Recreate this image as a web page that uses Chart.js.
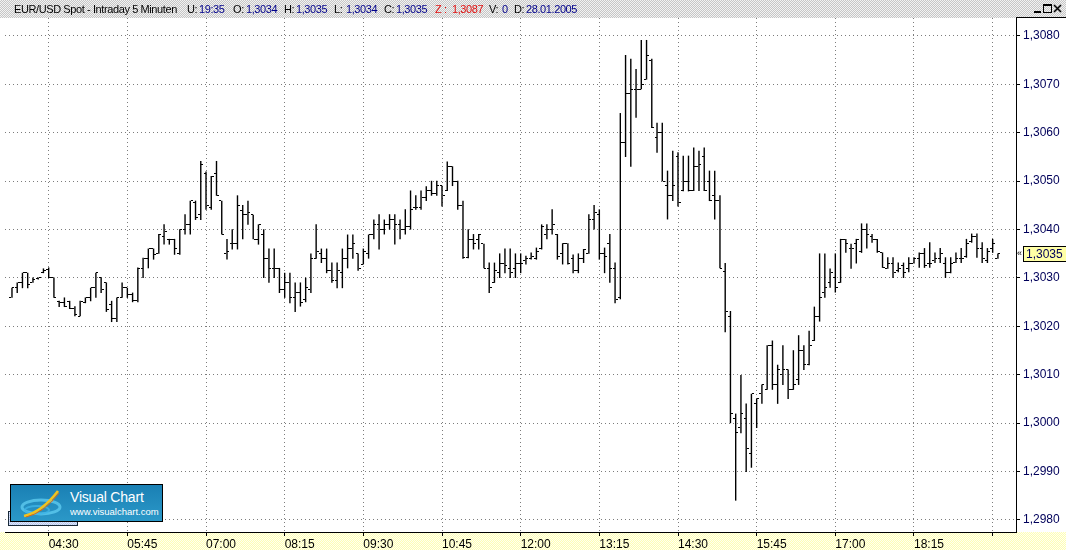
<!DOCTYPE html>
<html><head><meta charset="utf-8">
<script src="https://cdn.jsdelivr.net/npm/chart.js@4.4.0/dist/chart.umd.min.js"></script>
<style>
html,body{margin:0;padding:0;background:#fff;}
#wrap{position:relative;width:1066px;height:550px;overflow:hidden;font-family:"Liberation Sans",Arial,sans-serif;background:#fff;}
#hdr{position:absolute;left:0;top:0;width:1066px;height:18px;background:repeating-conic-gradient(#c6c6c6 0 25%,#f2f2f2 0 50%) 0 0/2px 2px;z-index:3;font-size:11px;letter-spacing:-0.4px;}
#hdr span{position:absolute;top:3px;white-space:nowrap;line-height:12px;}
.k{color:#000}.v{color:#00008b}.r{color:#e01010}
#xbg{position:absolute;left:0;top:532px;width:1066px;height:18px;background:repeating-conic-gradient(#ffffb4 0 25%,#fffff2 0 50%) 0 0/2px 2px;z-index:1;}
#c{position:absolute;left:0;top:0;z-index:2;}
#strip{position:absolute;left:8px;top:511px;width:68px;height:13px;background:repeating-conic-gradient(#b8c8ec 0 25%,#dde6fa 0 50%) 0 0/2px 2px;border:1px solid #1a2a3a;z-index:4;}
#logo{position:absolute;left:10px;top:484px;width:151px;height:36px;background:linear-gradient(#1a80b4,#2b98c8);border:1px solid #000;z-index:5;overflow:hidden;}
#logo .t1{position:absolute;left:59px;top:4px;color:#fff;font-size:14px;letter-spacing:-0.2px;}
#logo .t2{position:absolute;left:59px;top:21px;color:#fff;font-size:9.5px;}
#ytop{position:absolute;left:1016px;top:17px;width:50px;height:1px;background:#000;z-index:4;}
.win{position:absolute;z-index:4;}
</style></head>
<body><div id="wrap">
<div id="hdr">
<span class="k" style="left:14px">EUR/USD Spot - Intraday 5 Minuten</span>
<span class="k" style="left:187px">U:</span><span class="v" style="left:199px">19:35</span>
<span class="k" style="left:233px">O:</span><span class="v" style="left:246px">1,3034</span>
<span class="k" style="left:284px">H:</span><span class="v" style="left:296px">1,3035</span>
<span class="k" style="left:334px">L:</span><span class="v" style="left:346px">1,3034</span>
<span class="k" style="left:384px">C:</span><span class="v" style="left:396px">1,3035</span>
<span class="r" style="left:435px">Z :</span><span class="r" style="left:452px">1,3087</span>
<span class="k" style="left:489px">V:</span><span class="v" style="left:502px">0</span>
<span class="k" style="left:514px">D:</span><span class="v" style="left:526px">28.01.2005</span>
<div class="win" style="left:1034px;top:11px;width:7px;height:2px;background:#000;"></div>
<div class="win" style="left:1043px;top:4px;width:7px;height:6px;border:1px solid #000;border-top-width:2px;"></div>
<svg class="win" style="left:1053px;top:4px" width="10" height="10"><path d="M1 1 L8 8 M8 1 L1 8" stroke="#000" stroke-width="1.6"/></svg>
</div>
<div id="xbg"></div>
<div id="ytop"></div>
<canvas id="c" width="1066" height="550"></canvas>
<div id="strip"></div>
<div id="logo">
<svg width="60" height="36" style="position:absolute;left:0;top:0">
<ellipse cx="30" cy="22" rx="19" ry="7" fill="none" stroke="#62cdf2" stroke-width="3" opacity="0.75"/>
<ellipse cx="26" cy="25" rx="12" ry="4" fill="none" stroke="#3fb4e6" stroke-width="2" opacity="0.8"/>
<path d="M13 31 Q31 27 47 6" stroke="#f2c21c" stroke-width="2.6" fill="none"/>
<path d="M15 32 Q33 28 48 8" stroke="#e06a10" stroke-width="1" fill="none"/>
</svg>
<div class="t1">Visual Chart</div>
<div class="t2">www.visualchart.com</div>
</div>
</div>
<script>
const times = ["03:55",
"04:00","04:05","04:10","04:15","04:20","04:25","04:30","04:35","04:40","04:45","04:50","04:55",
"05:00","05:05","05:10","05:15","05:20","05:25","05:30","05:35","05:40","05:45","05:50","05:55",
"06:00","06:05","06:10","06:15","06:20","06:25","06:30","06:35","06:40","06:45","06:50","06:55",
"07:00","07:05","07:10","07:15","07:20","07:25","07:30","07:35","07:40","07:45","07:50","07:55",
"08:00","08:05","08:10","08:15","08:20","08:25","08:30","08:35","08:40","08:45","08:50","08:55",
"09:00","09:05","09:10","09:15","09:20","09:25","09:30","09:35","09:40","09:45","09:50","09:55",
"10:00","10:05","10:10","10:15","10:20","10:25","10:30","10:35","10:40","10:45","10:50","10:55",
"11:00","11:05","11:10","11:15","11:20","11:25","11:30","11:35","11:40","11:45","11:50","11:55",
"12:00","12:05","12:10","12:15","12:20","12:25","12:30","12:35","12:40","12:45","12:50","12:55",
"13:00","13:05","13:10","13:15","13:20","13:25","13:30","13:35","13:40","13:45","13:50","13:55",
"14:00","14:05","14:10","14:15","14:20","14:25","14:30","14:35","14:40","14:45","14:50","14:55",
"15:00","15:05","15:10","15:15","15:20","15:25","15:30","15:35","15:40","15:45","15:50","15:55",
"16:00","16:05","16:10","16:15","16:20","16:25","16:30","16:35","16:40","16:45","16:50","16:55",
"17:00","17:05","17:10","17:15","17:20","17:25","17:30","17:35","17:40","17:45","17:50","17:55",
"18:00","18:05","18:10","18:15","18:20","18:25","18:30","18:35","18:40","18:45","18:50","18:55",
"19:00","19:05","19:10","19:15","19:20","19:25","19:30","19:35"];

const opens = [
1.30259,1.30279,1.30290,1.30310,1.30290,1.30298,1.30310,1.30318,1.30300,1.30252,
1.30248,1.30252,1.30236,1.30221,1.30248,1.30260,1.30279,1.30300,1.30290,1.30245,
1.30215,1.30259,1.30279,1.30265,1.30253,1.30320,1.30340,1.30360,1.30350,1.30385,
1.30380,1.30380,1.30350,1.30400,1.30410,1.30455,1.30430,1.30515,1.30445,1.30515,
1.30459,1.30350,1.30370,1.30370,1.30440,1.30430,1.30430,1.30380,1.30390,1.30340,
1.30320,1.30320,1.30275,1.30290,1.30260,1.30270,1.30255,1.30275,1.30340,1.30350,
1.30340,1.30315,1.30295,1.30310,1.30340,1.30360,1.30350,1.30328,1.30350,1.30389,
1.30410,1.30400,1.30410,1.30420,1.30410,1.30400,1.30405,1.30445,1.30445,1.30465,
1.30480,1.30475,1.30490,1.30480,1.30530,1.30500,1.30450,1.30341,1.30380,1.30380,
1.30370,1.30320,1.30290,1.30310,1.30330,1.30320,1.30320,1.30330,1.30335,1.30340,
1.30340,1.30360,1.30390,1.30400,1.30390,1.30350,1.30370,1.30340,1.30315,1.30340,
1.30350,1.30420,1.30430,1.30350,1.30370,1.30320,1.30260,1.30580,1.30680,1.30690,
1.30690,1.30710,1.30750,1.30590,1.30600,1.30490,1.30470,1.30550,1.30480,1.30500,
1.30480,1.30530,1.30550,1.30500,1.30470,1.30460,1.30312,1.30220,1.30009,1.29990,
1.30009,1.29938,1.30040,1.30060,1.30069,1.30160,1.30080,1.30100,1.30110,1.30070,
1.30090,1.30150,1.30120,1.30170,1.30220,1.30270,1.30290,1.30300,1.30290,1.30380,
1.30360,1.30370,1.30355,1.30400,1.30385,1.30380,1.30352,1.30320,1.30330,1.30315,
1.30325,1.30320,1.30330,1.30340,1.30350,1.30330,1.30335,1.30340,1.30330,1.30310,
1.30332,1.30340,1.30345,1.30375,1.30385,1.30360,1.30335,1.30360,1.30340];

const highs = [
1.30279,1.30290,1.30310,1.30310,1.30300,1.30300,1.30319,1.30321,1.30300,1.30252,
1.30259,1.30252,1.30241,1.30252,1.30259,1.30279,1.30310,1.30300,1.30290,1.30252,
1.30259,1.30290,1.30279,1.30269,1.30321,1.30341,1.30360,1.30360,1.30390,1.30410,
1.30380,1.30380,1.30400,1.30431,1.30459,1.30459,1.30541,1.30519,1.30510,1.30541,
1.30459,1.30380,1.30400,1.30470,1.30450,1.30459,1.30430,1.30410,1.30400,1.30360,
1.30360,1.30320,1.30310,1.30310,1.30290,1.30290,1.30300,1.30350,1.30410,1.30360,
1.30360,1.30331,1.30331,1.30360,1.30389,1.30389,1.30350,1.30360,1.30389,1.30420,
1.30431,1.30420,1.30431,1.30431,1.30420,1.30441,1.30480,1.30470,1.30480,1.30489,
1.30500,1.30500,1.30490,1.30540,1.30530,1.30500,1.30459,1.30400,1.30390,1.30390,
1.30370,1.30331,1.30331,1.30350,1.30360,1.30360,1.30350,1.30350,1.30345,1.30352,
1.30362,1.30410,1.30410,1.30441,1.30390,1.30371,1.30371,1.30348,1.30350,1.30359,
1.30431,1.30450,1.30441,1.30362,1.30390,1.30331,1.30640,1.30760,1.30752,1.30731,
1.30791,1.30791,1.30752,1.30620,1.30620,1.30521,1.30562,1.30559,1.30552,1.30552,
1.30569,1.30562,1.30569,1.30521,1.30521,1.30470,1.30330,1.30231,1.30019,1.30099,
1.30040,1.30060,1.30050,1.30079,1.30160,1.30170,1.30120,1.30160,1.30110,1.30150,
1.30181,1.30160,1.30190,1.30240,1.30350,1.30350,1.30319,1.30350,1.30380,1.30380,
1.30370,1.30380,1.30412,1.30412,1.30390,1.30380,1.30352,1.30342,1.30342,1.30331,
1.30331,1.30342,1.30342,1.30352,1.30361,1.30373,1.30352,1.30361,1.30342,1.30342,
1.30352,1.30361,1.30380,1.30391,1.30391,1.30373,1.30361,1.30380,1.30350];

const lows = [
1.30259,1.30269,1.30279,1.30279,1.30290,1.30297,1.30310,1.30300,1.30259,1.30240,
1.30240,1.30236,1.30221,1.30221,1.30248,1.30252,1.30259,1.30269,1.30230,1.30209,
1.30209,1.30259,1.30259,1.30250,1.30250,1.30300,1.30320,1.30338,1.30350,1.30369,
1.30369,1.30348,1.30348,1.30390,1.30390,1.30420,1.30420,1.30441,1.30441,1.30470,
1.30390,1.30338,1.30359,1.30359,1.30380,1.30410,1.30380,1.30369,1.30300,1.30290,
1.30300,1.30269,1.30259,1.30248,1.30230,1.30241,1.30250,1.30269,1.30340,1.30331,
1.30310,1.30290,1.30279,1.30279,1.30320,1.30340,1.30315,1.30328,1.30340,1.30380,
1.30359,1.30390,1.30400,1.30369,1.30380,1.30390,1.30400,1.30441,1.30441,1.30459,
1.30470,1.30470,1.30448,1.30480,1.30490,1.30441,1.30340,1.30341,1.30359,1.30359,
1.30320,1.30269,1.30290,1.30300,1.30310,1.30300,1.30300,1.30310,1.30328,1.30338,
1.30338,1.30359,1.30380,1.30390,1.30338,1.30328,1.30328,1.30310,1.30310,1.30331,
1.30350,1.30400,1.30338,1.30310,1.30290,1.30248,1.30256,1.30550,1.30530,1.30631,
1.30690,1.30710,1.30610,1.30559,1.30500,1.30421,1.30459,1.30448,1.30479,1.30479,
1.30480,1.30480,1.30480,1.30459,1.30421,1.30320,1.30188,1.30000,1.29840,1.29979,
1.29899,1.29908,1.29990,1.30040,1.30069,1.30069,1.30040,1.30079,1.30050,1.30069,
1.30079,1.30110,1.30120,1.30170,1.30210,1.30259,1.30280,1.30270,1.30290,1.30352,
1.30319,1.30330,1.30352,1.30361,1.30373,1.30352,1.30321,1.30319,1.30300,1.30312,
1.30300,1.30312,1.30330,1.30321,1.30321,1.30321,1.30331,1.30331,1.30300,1.30310,
1.30331,1.30331,1.30342,1.30373,1.30342,1.30331,1.30331,1.30352,1.30340];

const closes = [
1.30279,1.30290,1.30310,1.30286,1.30296,1.30300,1.30316,1.30300,1.30259,1.30248,
1.30240,1.30236,1.30225,1.30252,1.30259,1.30279,1.30310,1.30275,1.30235,1.30215,
1.30259,1.30279,1.30265,1.30253,1.30320,1.30340,1.30360,1.30348,1.30390,1.30395,
1.30380,1.30360,1.30400,1.30410,1.30459,1.30425,1.30534,1.30450,1.30510,1.30470,
1.30390,1.30355,1.30370,1.30450,1.30430,1.30435,1.30380,1.30410,1.30340,1.30320,
1.30320,1.30275,1.30290,1.30260,1.30270,1.30250,1.30280,1.30340,1.30355,1.30340,
1.30315,1.30295,1.30315,1.30340,1.30360,1.30370,1.30320,1.30355,1.30389,1.30410,
1.30400,1.30410,1.30420,1.30410,1.30400,1.30405,1.30441,1.30445,1.30465,1.30480,
1.30475,1.30490,1.30470,1.30530,1.30500,1.30450,1.30341,1.30379,1.30370,1.30390,
1.30320,1.30280,1.30315,1.30330,1.30325,1.30310,1.30330,1.30330,1.30340,1.30345,
1.30355,1.30405,1.30400,1.30410,1.30345,1.30370,1.30330,1.30315,1.30340,1.30359,
1.30420,1.30435,1.30350,1.30345,1.30320,1.30255,1.30580,1.30680,1.30690,1.30690,
1.30700,1.30760,1.30610,1.30600,1.30500,1.30470,1.30490,1.30455,1.30500,1.30480,
1.30530,1.30535,1.30480,1.30460,1.30460,1.30320,1.30231,1.30020,1.29980,1.30019,
1.29948,1.30060,1.30050,1.30079,1.30160,1.30080,1.30110,1.30110,1.30069,1.30080,
1.30150,1.30120,1.30160,1.30220,1.30260,1.30280,1.30310,1.30280,1.30380,1.30370,
1.30360,1.30380,1.30400,1.30390,1.30380,1.30355,1.30321,1.30330,1.30310,1.30320,
1.30310,1.30330,1.30340,1.30350,1.30325,1.30330,1.30340,1.30350,1.30310,1.30330,
1.30340,1.30340,1.30370,1.30385,1.30360,1.30340,1.30355,1.30370,1.30350];

const xTickTimes  = ["04:30","05:45","07:00","08:15","09:30","10:45","12:00","13:15","14:30","15:45","17:00","18:15","19:30"];
const xTickLabels = ["04:30","05:45","07:00","08:15","09:30","10:45","12:00","13:15","14:30","15:45","17:00","18:15",""];
const yTickValues = [1.2980,1.2990,1.3000,1.3010,1.3020,1.3030,1.3040,1.3050,1.3060,1.3070,1.3080];
const yTickLabels = ["1,2980","1,2990","1,3000","1,3010","1,3020","1,3030","1,3040","1,3050","1,3060","1,3070","1,3080"];
const lastPriceLabel = "1,3035";

function tickImg(side){
  const c=document.createElement('canvas'); c.width=5; c.height=1;
  const g=c.getContext('2d'); g.fillStyle='#000';
  if(side==='l') g.fillRect(0,0,2,1); else g.fillRect(3,0,2,1);
  return c;
}
const openImg = tickImg('l'), closeImg = tickImg('r');

const FONT = '"Liberation Sans", Arial, sans-serif';
const gridOpts = {display:true,offset:false,color:'#7c7c7c',lineWidth:1,drawOnChartArea:true,drawTicks:true,tickLength:4,tickColor:'#000',tickWidth:1,tickBorderDash:[]};
const borderOpts = {display:true,color:'#000',width:1,dash:[1,3]};

const crisp = {
  id:'crisp',
  beforeDatasetsDraw(chart){ chart.ctx.imageSmoothingEnabled=false; }
};
const lastPrice = {
  id:'lastPrice',
  afterDraw(chart){
    const ys = chart.scales.y, ca = chart.chartArea, c = chart.ctx;
    const y = Math.round(ys.getPixelForValue(closes[closes.length-1]));
    const x0 = ca.right + 7;
    c.save();
    c.fillStyle='#ffffa6';
    c.fillRect(x0, y-8, 43, 16);
    c.strokeStyle='#000'; c.lineWidth=1;
    c.strokeRect(x0+0.5, y-7.5, 43, 15);
    c.fillStyle='#00005a';
    c.font='12px '+FONT; c.textBaseline='middle'; c.textAlign='left';
    c.fillText(lastPriceLabel, x0+3, y+1);
    c.fillStyle='#000'; c.font='9px '+FONT;
    c.fillText('\u00ab', ca.right+1, y);
    c.restore();
  }
};

new Chart(document.getElementById('c'), {
  type:'bar',
  data:{datasets:[
    {type:'bar', data: times.map((t,i)=>({x:i, y:[lows[i], highs[i]]})), backgroundColor:'#000', borderWidth:0, barThickness:1, inflateAmount:0.2, grouped:false},
    {type:'scatter', data: times.map((t,i)=>({x:i, y:opens[i]})), pointStyle:openImg, pointRadius:3, showLine:false},
    {type:'scatter', data: times.map((t,i)=>({x:i, y:closes[i]})), pointStyle:closeImg, pointRadius:3, showLine:false}
  ]},
  options:{
    responsive:false, animation:false, devicePixelRatio:1, events:[],
    layout:{padding:{top:18,left:0,right:0,bottom:0}},
    plugins:{legend:{display:false}, tooltip:{enabled:false}},
    scales:{
      x:{type:'linear', position:'bottom', offset:false, min:-1.33, max:191.45,
         afterBuildTicks:s=>{ s.ticks = xTickTimes.map(t=>({value: times.indexOf(t)})); },
         afterFit:s=>{ s.height = 18; },
         grid:gridOpts, border:borderOpts,
         ticks:{autoSkip:false, maxRotation:0, minRotation:0, align:'start', padding:1, color:'#000', font:{family:FONT,size:12},
                callback:v=>xTickLabels[xTickTimes.indexOf(times[v])] }
      },
      y:{type:'linear', position:'right', offset:false, min:1.297748, max:1.308368,
         afterBuildTicks:s=>{ s.ticks = yTickValues.map(v=>({value:v})); },
         afterFit:s=>{ s.width = 50; },
         grid:gridOpts, border:borderOpts,
         ticks:{color:'#00005a', padding:3, font:{family:FONT,size:12},
                callback:v=>yTickLabels[yTickValues.indexOf(v)] }
      }
    }
  },
  plugins:[crisp,lastPrice]
});
</script>
</body></html>
